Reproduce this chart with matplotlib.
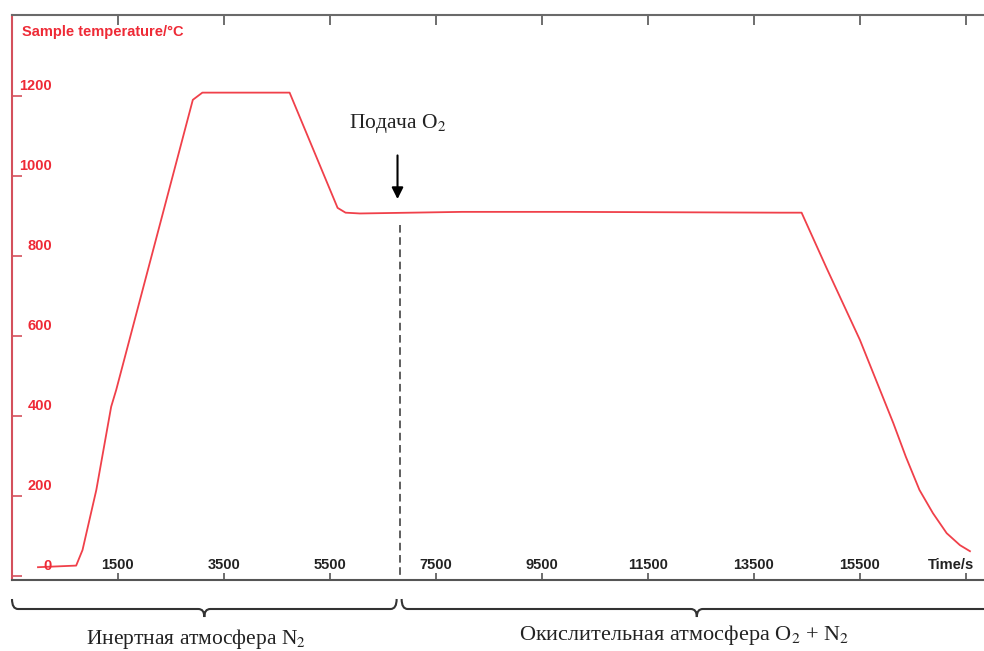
import matplotlib
matplotlib.use('Agg')
import matplotlib.pyplot as plt
import matplotlib.transforms as mtransforms
from matplotlib.path import Path
from matplotlib.patches import PathPatch

plt.rcParams['mathtext.fontset'] = 'stix'

# --- data ---
time_s = [0, 720, 840, 1100, 1380, 1475, 2920, 3100, 4745, 5650, 5800, 6070,
          8000, 10000, 12000, 14000, 14400, 14870, 15500, 16130, 16366,
          16623, 16877, 17136, 17387, 17575]
temp_c = [22, 26, 65, 215, 423, 465, 1190, 1208, 1208, 920, 908, 906,
          910, 910, 909, 908, 908, 770, 590, 382, 298,
          215, 157, 107, 77, 62]

x_ticks = [1500, 3500, 5500, 7500, 9500, 11500, 13500, 15500, 17500]
x_tick_labels = ['1500', '3500', '5500', '7500', '9500', '11500', '13500',
                 '15500', 'Time/s']
y_ticks = [0, 200, 400, 600, 800, 1000, 1200]
y_tick_labels = ['0', '200', '400', '600', '800', '1000', '1200']

o2_time = 6820          # moment O2 is switched on
o2_label = 'Подача O$_2$'
phase_labels = ['Инертная атмосфера N$_2$',
                'Окислительная атмосфера O$_2$ + N$_2$']

RED = '#ee2a36'
W, H = 984, 651

fig = plt.figure(figsize=(W / 100, H / 100), dpi=100)
ax = fig.add_axes([12 / W, 71 / H, 1 - 12 / W, (580 - 15) / H])
ax.set_xlim(-490, 17840)
ax.set_ylim(-10, 1402)

ax.plot(time_s, temp_c, color='#f0404a', lw=1.3, solid_joinstyle='round')

# spines
ax.spines['right'].set_visible(False)
ax.spines['left'].set_color('#d4505c')
ax.spines['bottom'].set_color('#555555')
ax.spines['top'].set_color('#6a6a6a')
for s in ['left', 'bottom', 'top']:
    ax.spines[s].set_linewidth(1.5)

ax.set_xticks(x_ticks)
ax.set_yticks(y_ticks)
ax.tick_params(axis='x', which='both', direction='in', top=True, bottom=True,
               labelbottom=False, length=5, width=1.2, color='#555555')
ax.tick_params(axis='y', direction='in', length=7, width=1.2, color='#d4505c',
               labelleft=False)
# longer ticks on the top edge
for t in ax.xaxis.get_major_ticks():
    t.tick2line.set_markersize(7)

# tick labels drawn inside the frame
xtrans = mtransforms.blended_transform_factory(ax.transData, ax.transAxes)
xtrans = xtrans + mtransforms.ScaledTranslation(0, 0.15, fig.dpi_scale_trans)
for xv, lab in zip(x_ticks, x_tick_labels):
    ha = 'right' if lab == 'Time/s' else 'center'
    xp = xv + 150 if lab == 'Time/s' else xv
    ax.text(xp, 0, lab, transform=xtrans, ha=ha, va='center',
            fontsize=10.5, fontweight='bold', family='Liberation Sans',
            color='#222222')

ytrans = mtransforms.blended_transform_factory(ax.transAxes, ax.transData)
ytrans = ytrans + mtransforms.ScaledTranslation(0.40, 0.095, fig.dpi_scale_trans)
for yv, lab in zip(y_ticks, y_tick_labels):
    ax.text(0, yv, lab, transform=ytrans, ha='right', va='center',
            fontsize=10.5, fontweight='bold', family='Liberation Sans',
            color=RED)

ax.text(0, 1, 'Sample temperature/°C',
        transform=ax.transAxes + mtransforms.ScaledTranslation(
            0.10, -0.17, fig.dpi_scale_trans),
        ha='left', va='center', fontsize=10.5, fontweight='bold',
        family='Liberation Sans', color=RED)

# O2 switch marker
ax.plot([o2_time, o2_time], [878, -10], color='#333333', lw=1.1,
        dashes=(5, 3), clip_on=False)
ax.annotate('', xy=(o2_time - 40, 935), xytext=(o2_time - 40, 1058),
            arrowprops=dict(arrowstyle='-|>', color='black', lw=1.5,
                            mutation_scale=17))
ax.text(o2_time - 40, 1132, o2_label, ha='center', va='center',
        fontsize=15.5, family='Liberation Serif', color='#222222')

# --- braces under the axis, in pixel space ---
ov = fig.add_axes([0, 0, 1, 1])
ov.set_xlim(0, W)
ov.set_ylim(0, H)
ov.axis('off')
ov.patch.set_alpha(0)


def to_px(t):
    return ax.transData.transform((t, 0))[0]


def brace(x0, x1, yb, curl=10, tip=8, r=6):
    xm = (x0 + x1) / 2
    verts = [(x0, yb + curl), (x0, yb), (x0 + r, yb),
             (xm - r, yb), (xm, yb), (xm, yb - tip),
             (xm, yb), (xm + r, yb),
             (x1 - r, yb), (x1, yb), (x1, yb + curl)]
    codes = [Path.MOVETO, Path.CURVE3, Path.CURVE3,
             Path.LINETO, Path.CURVE3, Path.CURVE3,
             Path.CURVE3, Path.CURVE3,
             Path.LINETO, Path.CURVE3, Path.CURVE3]
    ov.add_patch(PathPatch(Path(verts, codes), fill=False, lw=1.5,
                           edgecolor='#333333'))


left0 = to_px(-490)
split = to_px(o2_time)
brace(left0, split - 3, H - 609)
brace(split + 2, 992, H - 609)

ov.text((left0 + split) / 2 - 10, H - 644, phase_labels[0], ha='center',
        va='baseline', fontsize=15.5, family='Liberation Serif', color='#222222')
ov.text((split + 992) / 2 - 12, H - 640, phase_labels[1], ha='center',
        va='baseline', fontsize=16, family='Liberation Serif', color='#222222')

fig.savefig('out.png', dpi=100)
